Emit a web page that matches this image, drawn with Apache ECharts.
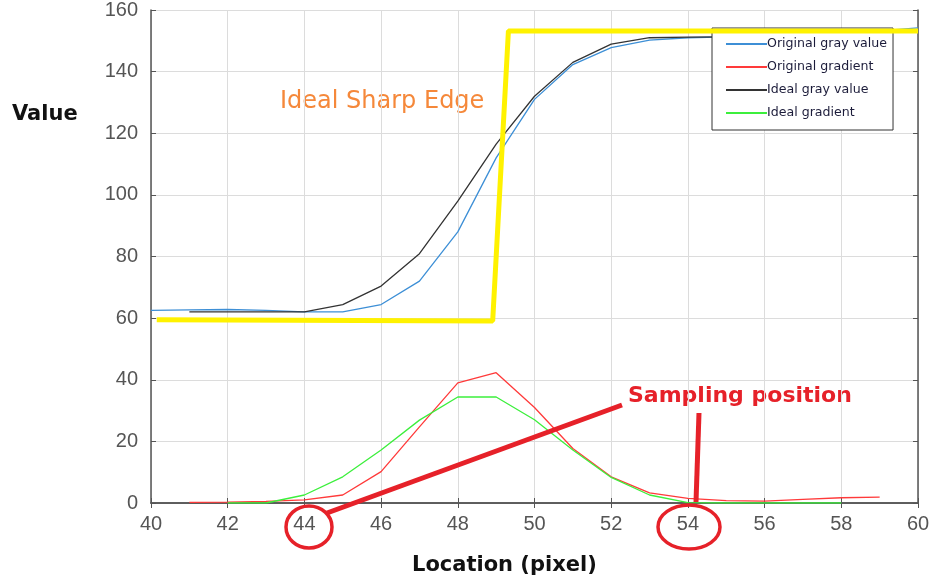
<!DOCTYPE html>
<html>
<head>
<meta charset="utf-8">
<script src="https://cdn.jsdelivr.net/npm/echarts@6/dist/echarts.min.js"></script>
<style>
html,body{margin:0;padding:0;background:#fff;}
#chart{width:935px;height:582px;}
</style>
</head>
<body>
<div id="chart"></div>
<script>
// ---- data ----
const xTicks = [40, 42, 44, 46, 48, 50, 52, 54, 56, 58, 60];
const yTicks = [0, 20, 40, 60, 80, 100, 120, 140, 160];

const origGrayX = [40,41,42,43,44,45,46,47,48,49,50,51,52,53,54,55,56,57,58,59,60];
const origGrayY = [62.5,62.7,62.8,62.5,62,62,64.4,72,88,112,131,142.3,147.8,150.2,151,151.3,151.6,152,152.5,153.2,154.2];

const origGradX = [41,42,43,44,45,46,47,48,49,50,51,52,53,54,55,56,57,58,59];
const origGradY = [0.2,0.3,0.5,1,2.6,10.2,24.7,39,42.3,31,17.7,8.5,3.3,1.5,0.8,0.6,1.2,1.7,1.9];

const idealGrayX = [41,42,43,44,45,46,47,48,49,50,51,52,53,54,55,56,57,58,59];
const idealGrayY = [62,62,62,62,64.4,70.4,80.9,98,116.5,132,143,148.9,151,151.2,151.3,151.3,151.3,151.3,151.3];

const idealGradX = [42,43,44,45,46,47,48,49,50,51,52,53,54,55,56,57,58];
const idealGradY = [0,0,2.6,8.5,17.2,26.9,34.4,34.4,27,17.2,8.3,2.6,0.1,0,0,0,0];

const edgeX = [40.15, 48.91, 49.32, 60];
const edgeY = [59.5, 59.1, 153.2, 153.2];

const names = ['Original gray value', 'Original gradient', 'Ideal gray value', 'Ideal gradient'];

function pairs(xs, ys){ return xs.map((x,i)=>[x, ys[i]]); }

const chart = echarts.init(document.getElementById('chart'));
const axisColor = '#555';
const labelStyle = {color:'#555', fontSize:20, fontFamily:'Liberation Sans, Arial, sans-serif'};
const dv = 'DejaVu Sans, sans-serif';

const option = {
  animation:false,
  backgroundColor:'#fff',
  grid:{left:151, right:17, top:9, bottom:79, containLabel:false},
  legend:{
    data:names,
    orient:'vertical',
    left:712, top:28,
    backgroundColor:'#fff',
    borderColor:'#333', borderWidth:1, borderRadius:0,
    padding:[9,6,10,14],
    itemGap:9,
    itemWidth:41, itemHeight:2,
    icon:'rect',
    z:4,
    textStyle:{fontSize:12.6, color:'#1c1c3a', fontFamily:dv, padding:[0,0,0,-5], lineHeight:14}
  },
  xAxis:[{
    type:'value', min:40, max:60, interval:2,
    axisLine:{show:true, lineStyle:{color:axisColor, width:1.5}},
    axisTick:{show:true, inside:true, length:5, lineStyle:{color:axisColor}},
    axisLabel:{...labelStyle, margin:11, formatter:v=>xTicks.includes(v)?String(v):''},
    splitLine:{show:true, lineStyle:{color:'#dcdcdc', width:1}}
  },{
    type:'value', min:40, max:60, interval:2, position:'top',
    axisLine:{show:true, lineStyle:{color:axisColor, width:1.5}},
    axisTick:{show:true, inside:true, length:5, lineStyle:{color:axisColor}},
    axisLabel:{show:false}, splitLine:{show:false}
  }],
  yAxis:[{
    type:'value', min:0, max:160, interval:20,
    axisLine:{show:true, lineStyle:{color:axisColor, width:1.5}},
    axisTick:{show:true, inside:true, length:5, lineStyle:{color:axisColor}},
    axisLabel:{...labelStyle, margin:13, formatter:v=>yTicks.includes(v)?String(v):''},
    splitLine:{show:true, lineStyle:{color:'#dcdcdc', width:1}}
  },{
    type:'value', min:0, max:160, interval:20, position:'right',
    axisLine:{show:true, lineStyle:{color:axisColor, width:1.5}},
    axisTick:{show:true, inside:true, length:5, lineStyle:{color:axisColor}},
    axisLabel:{show:false}, splitLine:{show:false}
  }],
  series:[
    {name:names[0], type:'line', data:pairs(origGrayX, origGrayY), showSymbol:false, symbol:'none',
     lineStyle:{color:'#3d8fd6', width:1.3}, itemStyle:{color:'#3d8fd6'}, z:3},
    {name:names[1], type:'line', data:pairs(origGradX, origGradY), showSymbol:false, symbol:'none',
     lineStyle:{color:'#ff3a3a', width:1.3}, itemStyle:{color:'#ff3a3a'}, z:3},
    {name:names[2], type:'line', data:pairs(idealGrayX, idealGrayY), showSymbol:false, symbol:'none',
     lineStyle:{color:'#333', width:1.3}, itemStyle:{color:'#333'}, z:3},
    {name:names[3], type:'line', data:pairs(idealGradX, idealGradY), showSymbol:false, symbol:'none',
     lineStyle:{color:'#3cef3c', width:1.3}, itemStyle:{color:'#3cef3c'}, z:3},
    {name:'Ideal Sharp Edge', type:'line', data:pairs(edgeX, edgeY), showSymbol:false, symbol:'none',
     lineStyle:{color:'#fff200', width:5}, z:8}
  ],
  graphic:[
    {type:'text', left:12, top:104, style:{text:'Value', fontSize:21, fontWeight:'bold', fill:'#111', fontFamily:dv}},
    {type:'text', left:412, top:555, style:{text:'Location (pixel)', fontSize:21, fontWeight:'bold', fill:'#111', fontFamily:dv}},
    {type:'text', left:280, top:90, style:{text:'Ideal Sharp Edge', fontSize:24, fill:'#f5883a', fontFamily:dv}},
    {type:'text', left:628, top:385, style:{text:'Sampling position', fontSize:22, fontWeight:'bold', fill:'#e62129', fontFamily:dv}},
    {type:'line', shape:{x1:622, y1:405, x2:327, y2:513}, style:{stroke:'#e62129', lineWidth:5}, z:10},
    {type:'line', shape:{x1:699, y1:413, x2:696, y2:502}, style:{stroke:'#e62129', lineWidth:5}, z:10},
    {type:'ellipse', shape:{cx:309, cy:527, rx:23, ry:21}, style:{stroke:'#e62129', fill:null, lineWidth:3.5}, z:10},
    {type:'ellipse', shape:{cx:689, cy:527, rx:31, ry:22}, style:{stroke:'#e62129', fill:null, lineWidth:3.5}, z:10}
  ]
};
chart.setOption(option);
</script>
</body>
</html>
